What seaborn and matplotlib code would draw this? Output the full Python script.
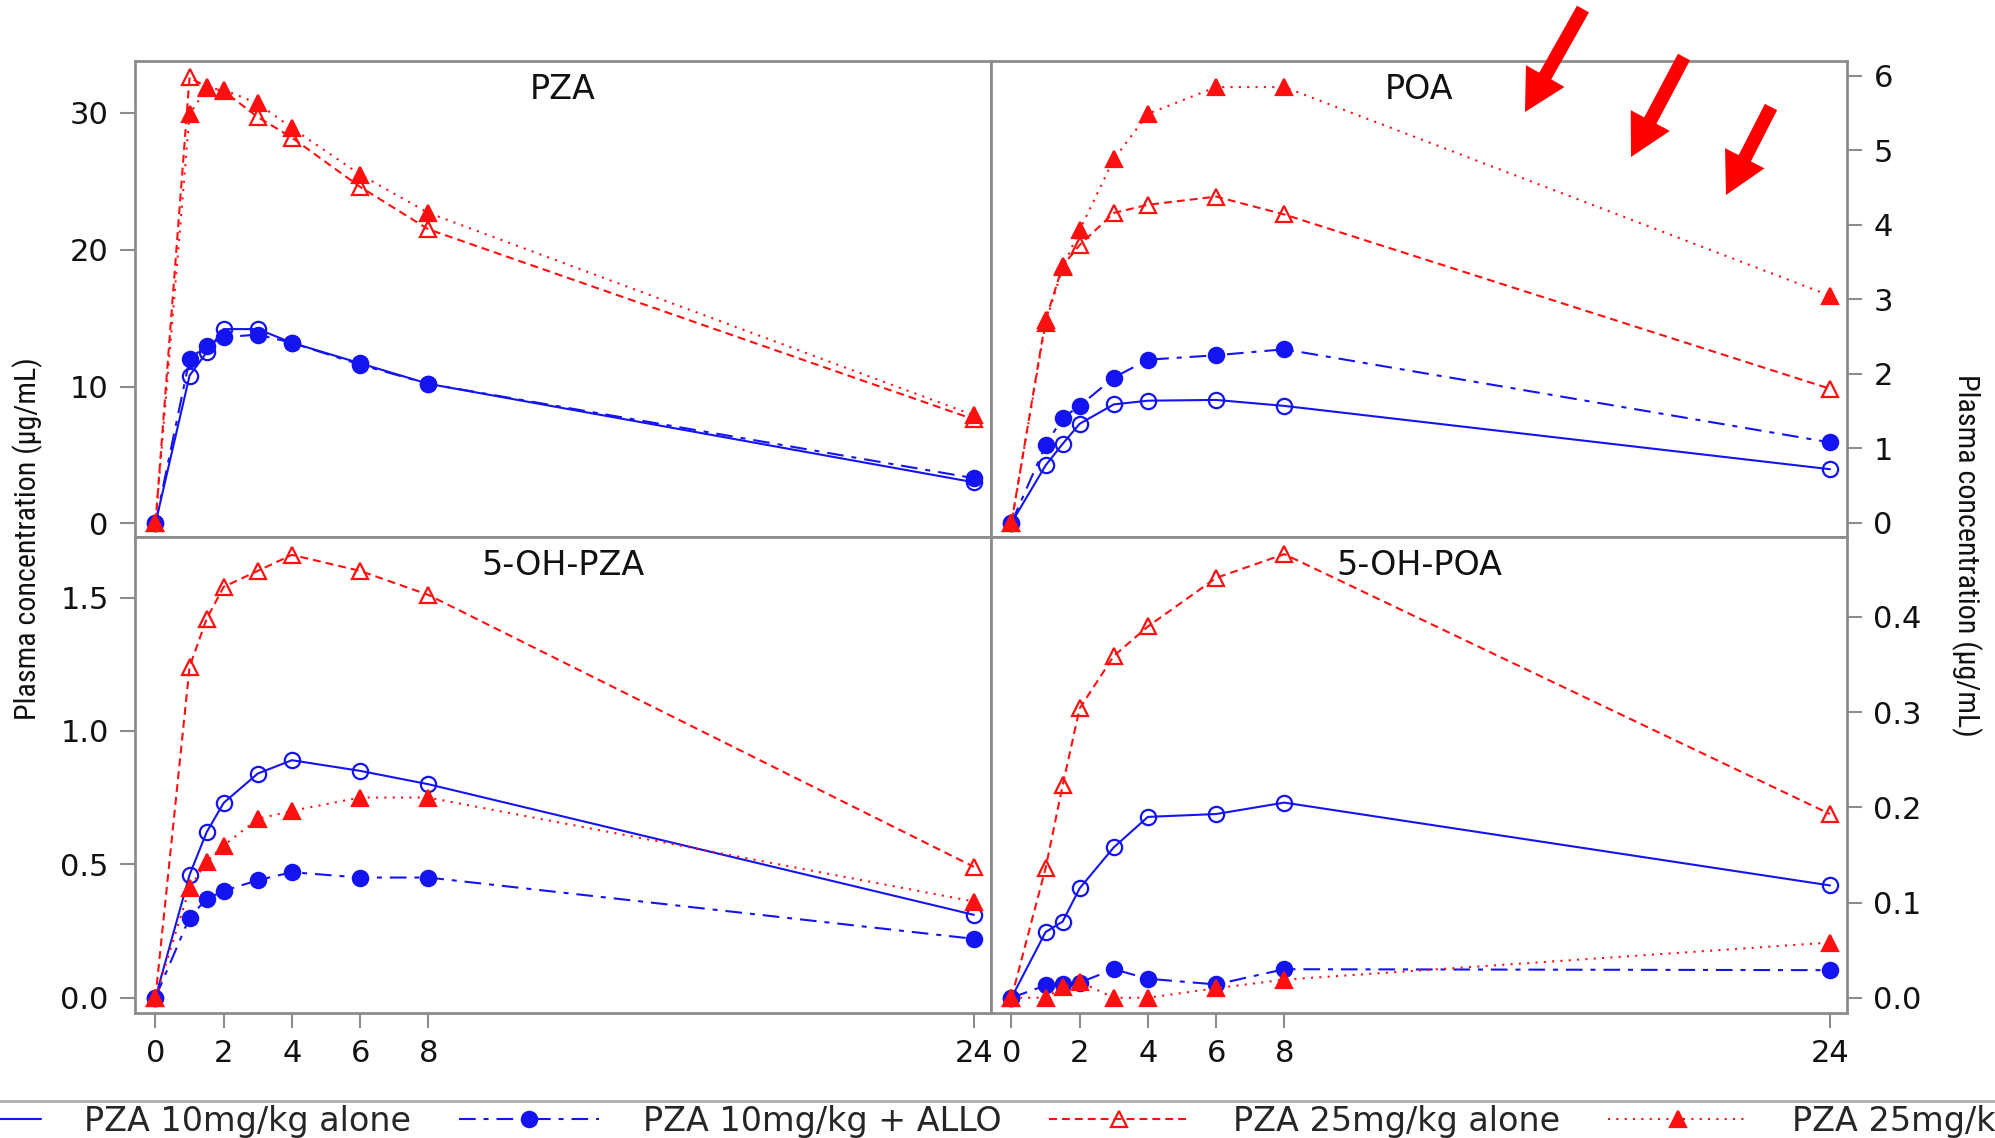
import matplotlib
matplotlib.use("Agg")
import matplotlib.pyplot as plt
from matplotlib import font_manager
import seaborn as sns
import pandas as pd

# sampling times (h)
hours = [0, 1, 1.5, 2, 3, 4, 6, 8, 24]
series_names = ["PZA 10mg/kg alone", "PZA 10mg/kg + ALLO",
                "PZA 25mg/kg alone", "PZA 25mg/kg + ALLO"]

# PZA (ug/mL)
pza_10 = [0, 10.8, 12.5, 14.2, 14.2, 13.2, 11.7, 10.2, 3.0]
pza_10_allo = [0, 12.0, 13.0, 13.6, 13.8, 13.2, 11.6, 10.2, 3.3]
pza_25 = [0, 32.6, 31.9, 31.6, 29.7, 28.2, 24.6, 21.5, 7.6]
pza_25_allo = [0, 29.9, 31.8, 31.7, 30.7, 28.9, 25.5, 22.7, 7.9]

# POA
poa_10 = [0, 0.77, 1.06, 1.33, 1.59, 1.64, 1.65, 1.57, 0.72]
poa_10_allo = [0, 1.04, 1.41, 1.57, 1.95, 2.19, 2.25, 2.33, 1.08]
poa_25 = [0, 2.72, 3.45, 3.73, 4.16, 4.27, 4.38, 4.14, 1.80]
poa_25_allo = [0, 2.68, 3.43, 3.93, 4.88, 5.49, 5.85, 5.85, 3.05]

# 5-OH-PZA
ohpza_10 = [0, 0.46, 0.62, 0.73, 0.84, 0.89, 0.85, 0.80, 0.31]
ohpza_10_allo = [0, 0.30, 0.37, 0.40, 0.44, 0.47, 0.45, 0.45, 0.22]
ohpza_25 = [0, 1.24, 1.42, 1.54, 1.60, 1.66, 1.60, 1.51, 0.49]
ohpza_25_allo = [0, 0.41, 0.51, 0.57, 0.67, 0.70, 0.75, 0.75, 0.36]

# 5-OH-POA
ohpoa_10 = [0, 0.069, 0.080, 0.115, 0.158, 0.190, 0.193, 0.205, 0.118]
ohpoa_10_allo = [0, 0.013, 0.014, 0.016, 0.030, 0.020, 0.014, 0.030, 0.029]
ohpoa_25 = [0, 0.136, 0.223, 0.304, 0.359, 0.390, 0.441, 0.466, 0.193]
ohpoa_25_allo = [0, 0.0, 0.011, 0.017, 0.0, 0.0, 0.010, 0.019, 0.058]

BLUE = "#1414f0"
RED = "#ff0f0f"
SPINE = "#8c8c8c"

line_styles = [
    dict(color=BLUE, linestyle="-", marker="o", markerfacecolor="none"),
    dict(color=BLUE, linestyle=(0, (8, 3.8, 2.4, 3.8)), marker="o", markerfacecolor=BLUE),
    dict(color=RED, linestyle=(0, (3.8, 2.4)), marker="^", markerfacecolor="none"),
    dict(color=RED, linestyle=(0, (1, 3)), marker="^", markerfacecolor=RED),
]

sns.set_style("ticks")
plt.rcParams["font.family"] = ["DejaVu Sans"]

fig, axes = plt.subplots(2, 2, figsize=(19.95, 11.38), dpi=100)
fig.subplots_adjust(left=135 / 1995, right=1847 / 1995, top=1 - 61 / 1138,
                    bottom=1 - 1013 / 1138, wspace=0, hspace=0)


def draw_panel(ax, series, title, ylim, yticks, fmt, right=False, bottom=False):
    for name, vals, st in zip(series_names, series, line_styles):
        df = pd.DataFrame({"hour": hours, "conc": vals})
        sns.lineplot(data=df, x="hour", y="conc", ax=ax, label=name, legend=False,
                     linewidth=1.5, markersize=11, markeredgewidth=1.6,
                     markeredgecolor=st["color"], **st)
    ax.set_xlim(-0.6, 24.5)
    ax.set_ylim(*ylim)
    ax.set_xticks([0, 2, 4, 6, 8, 24])
    ax.set_yticks(yticks)
    ax.set_yticklabels([fmt.format(v) for v in yticks])
    ax.set_xlabel("")
    ax.set_ylabel("")
    ax.text(0.5, 0.94, title, transform=ax.transAxes, ha="center", va="center",
            fontsize=24, color="#111111")
    for sp in ax.spines.values():
        sp.set_visible(True)
        sp.set_color(SPINE)
        sp.set_linewidth(2)
    ax.tick_params(axis="both", colors=SPINE, labelcolor="#111111", labelsize=22,
                   length=11, width=1.5, pad=8)
    if right:
        ax.yaxis.tick_right()
    if not bottom:
        ax.tick_params(axis="x", bottom=False, labelbottom=False)


draw_panel(axes[0, 0], [pza_10, pza_10_allo, pza_25, pza_25_allo], "PZA",
           (-1.0, 33.8), [0, 10, 20, 30], "{:g}")
draw_panel(axes[0, 1], [poa_10, poa_10_allo, poa_25, poa_25_allo], "POA",
           (-0.19, 6.2), [0, 1, 2, 3, 4, 5, 6], "{:g}", right=True)
draw_panel(axes[1, 0], [ohpza_10, ohpza_10_allo, ohpza_25, ohpza_25_allo], "5-OH-PZA",
           (-0.058, 1.727), [0, 0.5, 1.0, 1.5], "{:.1f}", bottom=True)
draw_panel(axes[1, 1], [ohpoa_10, ohpoa_10_allo, ohpoa_25, ohpoa_25_allo], "5-OH-POA",
           (-0.016, 0.484), [0, 0.1, 0.2, 0.3, 0.4], "{:.1f}", right=True, bottom=True)

# narrow font for the rotated axis labels, if one is installed
installed = {f.name for f in font_manager.fontManager.ttflist}
label_font = "DejaVu Sans"
for cand in ["Liberation Sans Narrow", "Roboto Condensed", "DejaVu Sans Condensed",
             "Open Sans Condensed", "Liberation Sans", "Roboto"]:
    if cand in installed:
        label_font = cand
        break

ylab_l = fig.text(28 / 1995, 0.527, "Plasma concentration (µg/mL)", rotation=90,
                  ha="center", va="center", fontsize=20, family=label_font, color="#111111")
ylab_r = fig.text(1966 / 1995, 0.512, "Plasma concentration (µg/mL)", rotation=-90,
                  ha="center", va="center", fontsize=20, family=label_font, color="#111111")
fig.canvas.draw()
ext = ylab_l.get_window_extent().height
for t in (ylab_l, ylab_r):
    t.set_fontsize(20 * 362 / ext)

handles, labels = axes[0, 0].get_legend_handles_labels()
leg = fig.legend(handles, labels, loc="center", bbox_to_anchor=(0.514, 1 - 1121 / 1138),
                 ncol=4, fontsize=24, handlelength=4.2, handletextpad=1.3,
                 columnspacing=1.45, frameon=True, fancybox=False, borderpad=0.12,
                 edgecolor="#9a9a9a")
leg.get_frame().set_linewidth(2)

# red arrows pointing at the POA 24 h region
arrows = [((1583, 1138 - 9), (1525, 1138 - 112)),
          ((1684, 1138 - 57), (1631, 1138 - 157)),
          ((1771, 1138 - 107), (1726, 1138 - 195))]
for tail, tip in arrows:
    fig.add_artist(matplotlib.patches.FancyArrowPatch(
        tail, tip, transform=None,
        arrowstyle="simple,head_length=1.35,head_width=1.45,tail_width=0.45",
        mutation_scale=22, color="#ff0000", shrinkA=0, shrinkB=0, lw=0))

fig.savefig("out.png", dpi=100)
